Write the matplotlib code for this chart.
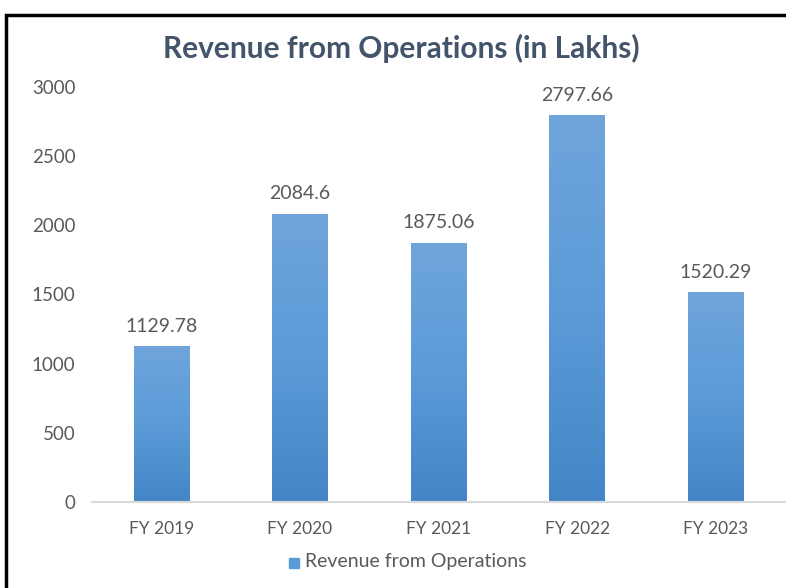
import matplotlib.pyplot as plt
from matplotlib.patches import Rectangle
from matplotlib.colors import LinearSegmentedColormap
import numpy as np

# data
#---------------------------------------------------------------------------
years = ['FY 2019', 'FY 2020', 'FY 2021', 'FY 2022', 'FY 2023']
revenue = [1129.78, 2084.6, 1875.06, 2797.66, 1520.29]
labels = ['1129.78', '2084.6', '1875.06', '2797.66', '1520.29']

plt.rcParams['font.family'] = ['Lato', 'DejaVu Sans']
txt = '#595959'

fig = plt.figure(figsize=(7.86, 5.88), dpi=100)
ax = fig.add_axes([0.117, 0.1463, 0.8817, 0.7058])

x = np.arange(len(years))
bars = ax.bar(x, revenue, width=0.4, color='#5b9bd5', zorder=2)

# gradient fill, lighter on top
grad = np.linspace(0, 1, 256).reshape(-1, 1)
cmap = LinearSegmentedColormap.from_list('g', ['#4485c6', '#5b9bd8', '#70a5dc'])
for b in bars:
    bx, by = b.get_x(), b.get_y()
    w, h = b.get_width(), b.get_height()
    im = ax.imshow(grad, cmap=cmap, aspect='auto', origin='lower',
                   extent=[bx, bx + w, by, by + h], zorder=3)
    im.set_clip_path(b)
    b.set_alpha(0)

for xi, v, s in zip(x, revenue, labels):
    ax.annotate(s, (xi, v), xytext=(0, 8), textcoords='offset points',
                ha='center', va='bottom', fontsize=14, color=txt)

ax.set_xlim(-0.5, len(years) - 0.5)
ax.set_ylim(0, 3000)
ax.set_yticks([0, 500, 1000, 1500, 2000, 2500, 3000])
ax.set_xticks(x)
ax.set_xticklabels(years)
ax.tick_params(axis='both', length=0, labelcolor=txt)
ax.tick_params(axis='y', pad=12, labelsize=13.5)
ax.tick_params(axis='x', pad=14, labelsize=12.5)
for sp in ['top', 'right', 'left']:
    ax.spines[sp].set_visible(False)
ax.spines['bottom'].set_color('#d9d9d9')
ax.spines['bottom'].set_linewidth(1.5)
ax.spines['bottom'].set_zorder(4)

fig.text(0.511, 0.918, 'Revenue from Operations (in Lakhs)', ha='center', va='center',
         fontsize=21.5, fontweight='bold', color='#44546a')

# legend
fig.patches.append(Rectangle((289 / 786, 1 - 568 / 588), 10 / 786, 10 / 588,
                             transform=fig.transFigure, color='#5b9bd5'))
fig.text(305 / 786, 1 - 562 / 588, 'Revenue from Operations', ha='left', va='center',
         fontsize=14, color=txt)

# frame
fig.patches.append(Rectangle((6.5 / 786, -0.1), 1.2, 1 - 15.5 / 588 + 0.1,
                             transform=fig.transFigure, fill=False,
                             edgecolor='black', linewidth=2.5))

plt.savefig('out.png', dpi=100)
